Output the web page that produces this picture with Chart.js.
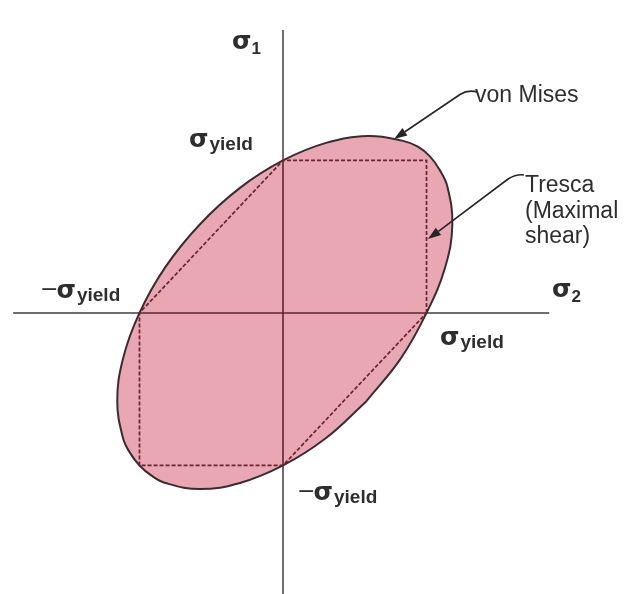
<!DOCTYPE html>
<html>
<head>
<meta charset="utf-8">
<script src="https://cdn.jsdelivr.net/npm/chart.js@4.4.0/dist/chart.umd.min.js"></script>
<style>
  html, body { margin: 0; padding: 0; background: #fff; }
  #wrap { width: 625px; height: 594px; position: relative; }
</style>
</head>
<body>
<div id="wrap"><canvas id="chart"></canvas></div>
<script>
// von Mises ellipse, in units of sigma_yield
// (x = sigma_2, y = sigma_1), going round counter-clockwise
const misesS2 = [0.58, 0.82, 1.00, 1.13, 1.18, 1.145, 1.09, 1.025, 0.94, 0.83, 0.59, 0.30,
  0.00, -0.30, -0.58, -0.82, -1.00, -1.115, -1.155, -1.115, -1.067, -1.00, -0.916, -0.82,
  -0.58, -0.30, 0.00, 0.30, 0.58];
const misesS1 = [-0.58, -0.30, 0.00, 0.30, 0.58, 0.83, 0.94, 1.025, 1.09, 1.13, 1.16, 1.115,
  1.00, 0.82, 0.58, 0.30, 0.00, -0.30, -0.58, -0.82, -0.916, -1.00, -1.067, -1.115,
  -1.155, -1.115, -1.00, -0.82, -0.58];

// Tresca hexagon corners
const trescaS2 = [1, 1, 0, -1, -1, 0, 1];
const trescaS1 = [0, 1, 1, 0, -1, -1, 0];

// axis lines: full length, and the part inside the yield surface
const axisEnds = [-1.88, 1.855];
const axisInner = [-1, 1];

function points(xs, ys) {
  return xs.map((x, i) => ({ x: x, y: ys[i] }));
}

function lineSet(data, color, width, order, extra) {
  return Object.assign({
    data: data,
    showLine: true,
    borderColor: color,
    borderWidth: width,
    pointRadius: 0,
    pointHoverRadius: 0,
    fill: false,
    tension: 0,
    order: order,
  }, extra || {});
}

// text + arrows, placed in sigma units
const sigmaLabels = [
  { x: -0.655, y: 1.089, minus: false, sub: 'yield' },
  { x: -1.693, y: 0.098, minus: true, sub: 'yield' },
  { x: 1.094, y: -0.210, minus: false, sub: 'yield' },
  { x: 0.098, y: -1.226, minus: true, sub: 'yield' },
  { x: -0.355, y: 1.73, minus: false, sub: '1' },
  { x: 1.875, y: 0.105, minus: false, sub: '2' },
];
const notes = [
  { x: 1.338, y: 1.384, lines: ['von Mises'] },
  { x: 1.686, y: 0.793, lines: ['Tresca', '(Maximal', 'shear)'] },
];
const arrows = [
  { tail: [1.352, 1.449], bend: [1.275, 1.452], head: [0.774, 1.141] },
  { tail: [1.679, 0.905], bend: [1.610, 0.898], head: [1.010, 0.485] },
];

function drawSigma(ctx, px, py, lab) {
  let x = px;
  ctx.fillStyle = '#2e2e2e';
  if (lab.minus) {
    ctx.font = '22px "DejaVu Sans"';
    ctx.fillText('\u2212', x, py - 2);
    x += ctx.measureText('\u2212').width - 2;
  }
  ctx.font = 'bold 25px "DejaVu Sans"';
  ctx.fillText('\u03c3', x, py);
  x += ctx.measureText('\u03c3').width;
  if (lab.sub.length > 1) {
    ctx.font = 'bold 19px "Liberation Sans"';
    ctx.fillText(lab.sub, x + 1, py + 3);
  } else {
    ctx.font = 'bold 17px "Liberation Sans"';
    ctx.fillText(lab.sub, x, py + 5);
  }
}

const labelPlugin = {
  id: 'labels',
  afterDatasetsDraw(chart) {
    const ctx = chart.ctx;
    const sx = chart.scales.x, sy = chart.scales.y;
    const px = (v) => sx.getPixelForValue(v);
    const py = (v) => sy.getPixelForValue(v);
    ctx.save();
    ctx.textBaseline = 'alphabetic';
    ctx.textAlign = 'left';

    for (const lab of sigmaLabels) drawSigma(ctx, px(lab.x), py(lab.y), lab);

    ctx.font = '23px "Liberation Sans"';
    ctx.fillStyle = '#2e2e2e';
    for (const n of notes) {
      n.lines.forEach((t, i) => ctx.fillText(t, px(n.x), py(n.y) + i * 25.5));
    }

    ctx.strokeStyle = '#262626';
    ctx.fillStyle = '#262626';
    ctx.lineWidth = 1.6;
    for (const a of arrows) {
      const tx = px(a.tail[0]), ty = py(a.tail[1]);
      const bx = px(a.bend[0]), by = py(a.bend[1]);
      const hx = px(a.head[0]), hy = py(a.head[1]);
      const ang = Math.atan2(hy - by, hx - bx);
      const len = 13, half = 4.5;
      const baseX = hx - Math.cos(ang) * len, baseY = hy - Math.sin(ang) * len;
      ctx.beginPath();
      ctx.moveTo(tx, ty);
      ctx.quadraticCurveTo(bx + 2, by - 2, bx - 6, by + 3);
      ctx.lineTo(baseX, baseY);
      ctx.stroke();
      ctx.beginPath();
      ctx.moveTo(hx, hy);
      ctx.lineTo(baseX - Math.sin(ang) * half, baseY + Math.cos(ang) * half);
      ctx.lineTo(baseX + Math.sin(ang) * half, baseY - Math.cos(ang) * half);
      ctx.closePath();
      ctx.fill();
    }
    ctx.restore();
  },
};

new Chart(document.getElementById('chart'), {
  type: 'scatter',
  data: {
    datasets: [
      lineSet(points(axisEnds, [0, 0]), '#6e6e6e', 2, 6),
      lineSet(points([0, 0], axisEnds), '#6e6e6e', 2, 6),
      lineSet(points(misesS2, misesS1), '#3a2c30', 2, 5, {
        fill: 'shape',
        backgroundColor: '#e8a7b2',
        tension: 0.4,
      }),
      lineSet(points(axisInner, [0, 0]), '#5e2630', 1.6, 4),
      lineSet(points([0, 0], axisInner), '#5e2630', 1.6, 4),
      lineSet(points(trescaS2, trescaS1), '#6a2232', 1.7, 3, {
        borderDash: [4, 2],
      }),
    ],
  },
  options: {
    responsive: true,
    maintainAspectRatio: false,
    animation: false,
    events: [],
    layout: { padding: 0 },
    scales: {
      x: { type: 'linear', display: false, min: -1.972, max: 2.383 },
      y: { type: 'linear', display: false, min: -1.843, max: 2.052 },
    },
    plugins: {
      legend: { display: false },
      tooltip: { enabled: false },
    },
  },
  plugins: [labelPlugin],
});
</script>
</body>
</html>
